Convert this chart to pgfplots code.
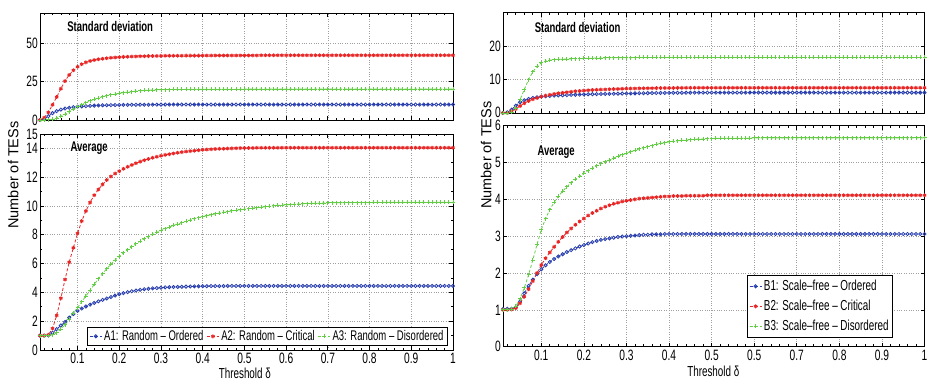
\documentclass[border=0pt]{standalone}
\usepackage{fontspec}
\setmainfont{Liberation Sans}[FakeStretch=0.68]
\newfontfamily\ylabfont{Liberation Sans}
\usepackage{pgfplots}
\usepackage{pgfplotstable}
\pgfplotsset{compat=1.18}
\definecolor{cblue}{RGB}{40,62,175}
\definecolor{cred}{RGB}{232,38,38}
\definecolor{cgreen}{RGB}{100,205,70}

\pgfplotstableread{
x a1 a2 a3 s1 s2 s3
0.01 1.00 1.00 1.00 0.0 0.0 0.0
0.02 1.00 1.00 1.00 0.5 1.5 0.0
0.03 1.02 1.05 1.00 2.5 5.0 0.2
0.04 1.20 1.50 1.05 4.5 10.0 0.6
0.05 1.45 2.40 1.20 5.8 15.0 1.3
0.06 1.70 3.60 1.45 6.8 20.5 2.5
0.07 1.95 4.90 1.75 7.5 25.5 3.8
0.08 2.25 6.10 2.15 8.0 29.5 5.3
0.09 2.50 7.10 2.55 8.4 32.5 7.0
0.10 2.72 8.10 2.95 8.7 34.8 8.6
0.11 2.88 8.95 3.35 8.9 36.5 10.0
0.12 3.02 9.65 3.75 9.1 37.7 11.3
0.13 3.15 10.25 4.15 9.25 38.6 12.5
0.14 3.27 10.75 4.55 9.4 39.2 13.5
0.15 3.38 11.15 4.95 9.5 39.7 14.4
0.16 3.48 11.50 5.30 9.6 40.1 15.2
0.17 3.58 11.80 5.65 9.7 40.4 15.9
0.18 3.68 12.05 5.95 9.75 40.7 16.5
0.19 3.78 12.25 6.25 9.8 40.9 17.0
0.20 3.88 12.42 6.50 9.85 41.1 17.5
0.21 3.95 12.58 6.75 9.9 41.3 17.9
0.22 4.02 12.72 6.97 9.9 41.4 18.3
0.23 4.08 12.85 7.18 9.95 41.5 18.6
0.24 4.13 12.97 7.37 9.95 41.6 18.9
0.25 4.18 13.08 7.55 10.0 41.7 19.1
0.26 4.22 13.18 7.72 10.0 41.75 19.3
0.27 4.25 13.27 7.88 10.0 41.8 19.5
0.28 4.28 13.35 8.03 10.05 41.85 19.6
0.29 4.30 13.42 8.17 10.05 41.9 19.7
0.30 4.33 13.49 8.30 10.05 41.95 19.8
0.31 4.35 13.55 8.42 10.1 42.0 19.9
0.32 4.36 13.60 8.54 10.1 42.0 19.95
0.33 4.37 13.65 8.65 10.1 42.0 20.0
0.34 4.38 13.70 8.75 10.1 42.05 20.0
0.35 4.39 13.74 8.85 10.1 42.05 20.0
0.36 4.40 13.78 8.94 10.1 42.1 20.05
0.37 4.41 13.81 9.03 10.1 42.1 20.05
0.38 4.42 13.84 9.11 10.1 42.1 20.05
0.39 4.42 13.87 9.19 10.1 42.1 20.1
0.40 4.43 13.90 9.26 10.1 42.15 20.1
0.41 4.43 13.92 9.33 10.1 42.15 20.1
0.42 4.44 13.94 9.39 10.1 42.15 20.1
0.43 4.44 13.96 9.45 10.1 42.2 20.1
0.44 4.44 13.97 9.51 10.1 42.2 20.1
0.45 4.44 13.98 9.56 10.1 42.2 20.15
0.46 4.45 13.99 9.61 10.1 42.2 20.15
0.47 4.45 14.00 9.66 10.1 42.2 20.15
0.48 4.45 14.01 9.70 10.1 42.2 20.15
0.49 4.45 14.02 9.74 10.1 42.25 20.15
0.50 4.45 14.03 9.78 10.1 42.25 20.2
0.51 4.45 14.03 9.82 10.1 42.25 20.2
0.52 4.45 14.03 9.86 10.1 42.25 20.2
0.53 4.45 14.04 9.89 10.1 42.25 20.2
0.54 4.45 14.04 9.92 10.1 42.3 20.2
0.55 4.45 14.04 9.95 10.1 42.3 20.2
0.56 4.45 14.04 9.98 10.1 42.3 20.2
0.57 4.45 14.04 10.01 10.1 42.3 20.2
0.58 4.45 14.04 10.04 10.1 42.3 20.2
0.59 4.45 14.05 10.06 10.1 42.3 20.2
0.60 4.45 14.05 10.08 10.1 42.3 20.2
0.61 4.45 14.05 10.10 10.1 42.3 20.2
0.62 4.45 14.05 10.12 10.1 42.3 20.2
0.63 4.45 14.05 10.14 10.1 42.3 20.2
0.64 4.45 14.05 10.15 10.1 42.3 20.2
0.65 4.45 14.05 10.17 10.1 42.3 20.2
0.66 4.45 14.05 10.18 10.1 42.3 20.2
0.67 4.45 14.05 10.19 10.1 42.3 20.2
0.68 4.45 14.05 10.20 10.1 42.3 20.2
0.69 4.45 14.05 10.21 10.1 42.3 20.2
0.70 4.45 14.05 10.22 10.1 42.3 20.2
0.71 4.45 14.05 10.22 10.1 42.3 20.2
0.72 4.45 14.05 10.23 10.1 42.3 20.2
0.73 4.45 14.05 10.23 10.1 42.3 20.2
0.74 4.45 14.05 10.23 10.1 42.3 20.2
0.75 4.45 14.05 10.24 10.1 42.3 20.2
0.76 4.45 14.05 10.24 10.1 42.3 20.2
0.77 4.45 14.05 10.24 10.1 42.3 20.2
0.78 4.45 14.05 10.24 10.1 42.3 20.2
0.79 4.45 14.05 10.24 10.1 42.3 20.2
0.80 4.45 14.05 10.24 10.1 42.3 20.2
0.81 4.45 14.05 10.25 10.1 42.3 20.2
0.82 4.45 14.05 10.25 10.1 42.3 20.2
0.83 4.45 14.05 10.25 10.1 42.3 20.2
0.84 4.45 14.05 10.25 10.1 42.3 20.2
0.85 4.45 14.05 10.25 10.1 42.3 20.2
0.86 4.45 14.05 10.25 10.1 42.3 20.2
0.87 4.45 14.05 10.25 10.1 42.3 20.2
0.88 4.45 14.05 10.25 10.1 42.3 20.2
0.89 4.45 14.05 10.25 10.1 42.3 20.2
0.90 4.45 14.05 10.25 10.1 42.3 20.2
0.91 4.45 14.05 10.25 10.1 42.3 20.2
0.92 4.45 14.05 10.25 10.1 42.3 20.2
0.93 4.45 14.05 10.25 10.1 42.3 20.2
0.94 4.45 14.05 10.25 10.1 42.3 20.2
0.95 4.45 14.05 10.25 10.1 42.3 20.2
0.96 4.45 14.05 10.25 10.1 42.3 20.2
0.97 4.45 14.05 10.25 10.1 42.3 20.2
0.98 4.45 14.05 10.25 10.1 42.3 20.2
0.99 4.45 14.05 10.25 10.1 42.3 20.2
1.00 4.45 14.05 10.25 10.1 42.3 20.2
}\tabA

\pgfplotstableread{
x b1 b2 b3 t1 t2 t3
0.01 1.02 1.00 1.00 0.0 0.0 0.0
0.02 1.03 1.00 1.00 0.2 0.0 0.0
0.03 1.03 1.01 1.02 1.0 0.5 0.3
0.04 1.06 1.05 1.10 2.2 1.2 1.5
0.05 1.22 1.18 1.30 3.2 2.1 4.0
0.06 1.45 1.36 1.60 3.8 2.9 7.0
0.07 1.65 1.56 1.95 4.2 3.6 10.0
0.08 1.82 1.78 2.35 4.5 4.1 12.3
0.09 1.97 2.00 2.78 4.7 4.5 14.0
0.10 2.10 2.22 3.18 4.9 4.9 15.0
0.11 2.21 2.40 3.48 5.0 5.2 15.5
0.12 2.30 2.56 3.72 5.1 5.45 15.8
0.13 2.38 2.71 3.92 5.2 5.7 15.95
0.14 2.45 2.85 4.08 5.25 5.9 16.05
0.15 2.51 2.98 4.22 5.3 6.05 16.1
0.16 2.57 3.10 4.34 5.35 6.2 16.15
0.17 2.62 3.21 4.45 5.4 6.35 16.2
0.18 2.67 3.31 4.55 5.45 6.5 16.25
0.19 2.72 3.40 4.63 5.5 6.6 16.3
0.20 2.76 3.48 4.71 5.55 6.7 16.35
0.21 2.80 3.56 4.78 5.6 6.8 16.4
0.22 2.84 3.63 4.85 5.62 6.9 16.4
0.23 2.87 3.69 4.91 5.65 6.95 16.45
0.24 2.90 3.75 4.97 5.68 7.0 16.45
0.25 2.92 3.80 5.02 5.7 7.05 16.5
0.26 2.94 3.84 5.07 5.72 7.1 16.5
0.27 2.96 3.88 5.12 5.75 7.15 16.5
0.28 2.98 3.91 5.17 5.78 7.2 16.5
0.29 2.99 3.94 5.21 5.8 7.25 16.55
0.30 3.00 3.96 5.25 5.82 7.3 16.55
0.31 3.01 3.98 5.29 5.85 7.32 16.55
0.32 3.02 4.00 5.33 5.87 7.34 16.55
0.33 3.03 4.02 5.37 5.9 7.36 16.6
0.34 3.04 4.03 5.40 5.92 7.38 16.6
0.35 3.04 4.04 5.43 5.94 7.4 16.6
0.36 3.05 4.05 5.46 5.96 7.42 16.6
0.37 3.05 4.06 5.49 5.98 7.44 16.6
0.38 3.05 4.07 5.52 6.0 7.46 16.6
0.39 3.06 4.08 5.54 6.0 7.48 16.6
0.40 3.06 4.08 5.56 6.02 7.5 16.6
0.41 3.06 4.09 5.58 6.03 7.5 16.6
0.42 3.06 4.09 5.59 6.04 7.52 16.6
0.43 3.06 4.09 5.60 6.05 7.52 16.6
0.44 3.06 4.10 5.61 6.06 7.53 16.6
0.45 3.06 4.10 5.62 6.07 7.54 16.6
0.46 3.06 4.10 5.63 6.08 7.55 16.6
0.47 3.06 4.10 5.64 6.09 7.55 16.6
0.48 3.06 4.10 5.64 6.1 7.55 16.6
0.49 3.06 4.11 5.65 6.1 7.55 16.6
0.50 3.06 4.11 5.65 6.1 7.55 16.6
0.51 3.06 4.11 5.66 6.1 7.55 16.6
0.52 3.06 4.11 5.66 6.1 7.55 16.6
0.53 3.06 4.11 5.66 6.1 7.55 16.6
0.54 3.06 4.11 5.66 6.1 7.55 16.6
0.55 3.06 4.11 5.66 6.1 7.55 16.6
0.56 3.06 4.11 5.66 6.1 7.55 16.6
0.57 3.06 4.11 5.66 6.1 7.55 16.6
0.58 3.06 4.11 5.66 6.1 7.55 16.6
0.59 3.06 4.11 5.66 6.1 7.55 16.6
0.60 3.06 4.11 5.67 6.1 7.55 16.6
0.61 3.06 4.11 5.67 6.1 7.55 16.6
0.62 3.06 4.11 5.67 6.1 7.55 16.6
0.63 3.06 4.11 5.67 6.1 7.55 16.6
0.64 3.06 4.11 5.67 6.1 7.55 16.6
0.65 3.06 4.11 5.67 6.1 7.55 16.6
0.66 3.06 4.11 5.67 6.1 7.55 16.6
0.67 3.06 4.11 5.67 6.1 7.55 16.6
0.68 3.06 4.11 5.67 6.1 7.55 16.6
0.69 3.06 4.11 5.67 6.1 7.55 16.6
0.70 3.06 4.11 5.67 6.1 7.55 16.6
0.71 3.06 4.11 5.67 6.1 7.55 16.6
0.72 3.06 4.11 5.67 6.1 7.55 16.6
0.73 3.06 4.11 5.67 6.1 7.55 16.6
0.74 3.06 4.11 5.67 6.1 7.55 16.6
0.75 3.06 4.11 5.67 6.1 7.55 16.6
0.76 3.06 4.11 5.67 6.1 7.55 16.6
0.77 3.06 4.11 5.67 6.1 7.55 16.6
0.78 3.06 4.11 5.67 6.1 7.55 16.6
0.79 3.06 4.11 5.67 6.1 7.55 16.6
0.80 3.06 4.11 5.67 6.1 7.55 16.6
0.81 3.06 4.11 5.67 6.1 7.55 16.6
0.82 3.06 4.11 5.67 6.1 7.55 16.6
0.83 3.06 4.11 5.67 6.1 7.55 16.6
0.84 3.06 4.11 5.67 6.1 7.55 16.6
0.85 3.06 4.11 5.67 6.1 7.55 16.6
0.86 3.06 4.11 5.67 6.1 7.55 16.6
0.87 3.06 4.11 5.67 6.1 7.55 16.6
0.88 3.06 4.11 5.67 6.1 7.55 16.6
0.89 3.06 4.11 5.67 6.1 7.55 16.6
0.90 3.06 4.11 5.67 6.1 7.55 16.6
0.91 3.06 4.11 5.67 6.1 7.55 16.6
0.92 3.06 4.11 5.67 6.1 7.55 16.6
0.93 3.06 4.11 5.67 6.1 7.55 16.6
0.94 3.06 4.11 5.67 6.1 7.55 16.6
0.95 3.06 4.11 5.67 6.1 7.55 16.6
0.96 3.06 4.11 5.67 6.1 7.55 16.6
0.97 3.06 4.11 5.67 6.1 7.55 16.6
0.98 3.06 4.11 5.67 6.1 7.55 16.6
0.99 3.06 4.11 5.67 6.1 7.55 16.6
1.00 3.06 4.11 5.67 6.1 7.55 16.6
}\tabB

\pgfplotsset{
  base/.style={
    scale only axis,
    xmin=0.01, xmax=1,
    tick align=inside, tick pos=both,
    major tick length=4pt, minor tick length=2.2pt,
    every tick/.style={black, line width=0.7pt},
    axis line style={line width=0.9pt},
    xtick={0.1,0.2,0.3,0.4,0.5,0.6,0.7,0.8,0.9,1},
    minor xtick={0.02,0.04,0.06,0.08,0.12,0.14,0.16,0.18,0.22,0.24,0.26,0.28,0.32,0.34,0.36,0.38,0.42,0.44,0.46,0.48,0.52,0.54,0.56,0.58,0.62,0.64,0.66,0.68,0.72,0.74,0.76,0.78,0.82,0.84,0.86,0.88,0.92,0.94,0.96,0.98},
    grid=major,
    major grid style={dotted, gray!75, line width=0.6pt},
    /pgf/number format/assume math mode=true,
    tick label style={font=\fontsize{15}{17}\selectfont, inner sep=1pt},
    yticklabel style={xshift=-1pt},
    xticklabel style={yshift=-2pt},
    label style={font=\fontsize{14.5}{16}\selectfont},
    legend style={font=\fontsize{14.5}{16}\selectfont, draw=black, line width=1pt, fill=white, inner xsep=2pt, inner ysep=1pt},
    legend cell align=left,
    legend image code/.code={\draw[mark repeat=2,mark phase=2] plot coordinates {(0pt,0pt) (6pt,0pt) (12pt,0pt)};},
  },
  s1/.style={color=cblue, line width=0.8pt, dash pattern=on 3pt off 2pt, mark=o, mark size=1.6pt, mark options={solid, line width=0.8pt}},
  s2/.style={color=cred, line width=0.8pt, dash pattern=on 3pt off 2pt, mark=asterisk, mark size=1.9pt, mark options={solid, line width=1pt}},
  s3/.style={color=cgreen, line width=0.8pt, dash pattern=on 3pt off 2pt, mark=+, mark size=2pt, mark options={solid, line width=0.9pt}},
}

\begin{document}
\begin{tikzpicture}[x=1pt,y=1pt]
\useasboundingbox (0,0) rectangle (929,380);

% ---------- Left panel, top: standard deviation ----------
\begin{axis}[base, at={(40pt,260pt)}, anchor=south west,
  width=413pt, height=107pt,
  ymin=0, ymax=70, ytick={0,25,50}, xticklabels={}]
  \addplot[s1] table[x=x,y=s1] {\tabA};
  \addplot[s2] table[x=x,y=s2] {\tabA};
  \addplot[s3] table[x=x,y=s3] {\tabA};
  \node[font=\bfseries\fontsize{14}{16}\selectfont] at (axis description cs:0.17,0.87) {Standard deviation};
\end{axis}

% ---------- Left panel, bottom: average ----------
\begin{axis}[base, at={(40pt,30pt)}, anchor=south west,
  width=413pt, height=216pt,
  ymin=0, ymax=15, ytick={0,2,4,6,8,10,12,14,15},
  minor ytick={1,3,5,7,9,11,13},
  xticklabels={0.1,0.2,0.3,0.4,0.5,0.6,0.7,0.8,0.9,1},
  xlabel={Threshold δ},
  xlabel style={at={(axis description cs:0.496,-0.106)}, anchor=center},
  ylabel={\ylabfont Number of TESs},
  ylabel style={at={(axis description cs:-0.065,0.81)}, anchor=center},
  legend columns=3,
  legend style={font=\fontsize{14}{16}\selectfont, at={(axis description cs:0.988,0.02)}, anchor=south east, /tikz/every even column/.append style={column sep=1pt}}]
  \addplot[s1] table[x=x,y=a1] {\tabA};
  \addplot[s2] table[x=x,y=a2] {\tabA};
  \addplot[s3] table[x=x,y=a3] {\tabA};
  \legend{A1: Random -- Ordered, A2: Random -- Critical, A3: Random -- Disordered}
  \node[font=\bfseries\fontsize{14}{16}\selectfont] at (axis description cs:0.119,0.935) {Average};
\end{axis}

% ---------- Right panel, top: standard deviation ----------
\begin{axis}[base, at={(503pt,267pt)}, anchor=south west,
  width=421.5pt, height=100.3pt,
  ymin=0, ymax=30, ytick={0,10,20}, yticklabels={\raisebox{2pt}{0},10,20}, xticklabels={}]
  \addplot[s1] table[x=x,y=t1] {\tabB};
  \addplot[s2] table[x=x,y=t2] {\tabB};
  \addplot[s3] table[x=x,y=t3] {\tabB};
  \node[font=\bfseries\fontsize{14}{16}\selectfont] at (axis description cs:0.177,0.85) {Standard deviation};
\end{axis}

% ---------- Right panel, bottom: average ----------
\begin{axis}[base, at={(503pt,33.3pt)}, anchor=south west,
  width=421.5pt, height=221pt,
  ymin=0, ymax=6, ytick={0,1,2,3,4,5,6}, yticklabels={0,1,2,3,4,5,\raisebox{-2pt}{6}},
  xticklabels={0.1,0.2,0.3,0.4,0.5,0.5,0.7,0.8,0.9,1},
  xlabel={Threshold δ},
  xlabel style={at={(axis description cs:0.499,-0.113)}, anchor=center},
  ylabel={\ylabfont Number of TESs},
  ylabel style={at={(axis description cs:-0.04,0.867)}, anchor=center},
  legend style={at={(axis description cs:0.578,0.04)}, anchor=south west, row sep=4pt, inner ysep=3pt}]
  \addplot[s1] table[x=x,y=b1] {\tabB};
  \addplot[s2] table[x=x,y=b2] {\tabB};
  \addplot[s3] table[x=x,y=b3] {\tabB};
  \legend{B1: Scale--free -- Ordered, B2: Scale--free -- Critical, B3: Scale--free -- Disordered}
  \node[font=\bfseries\fontsize{14}{16}\selectfont] at (axis description cs:0.126,0.878) {Average};
\end{axis}
\end{tikzpicture}
\end{document}
